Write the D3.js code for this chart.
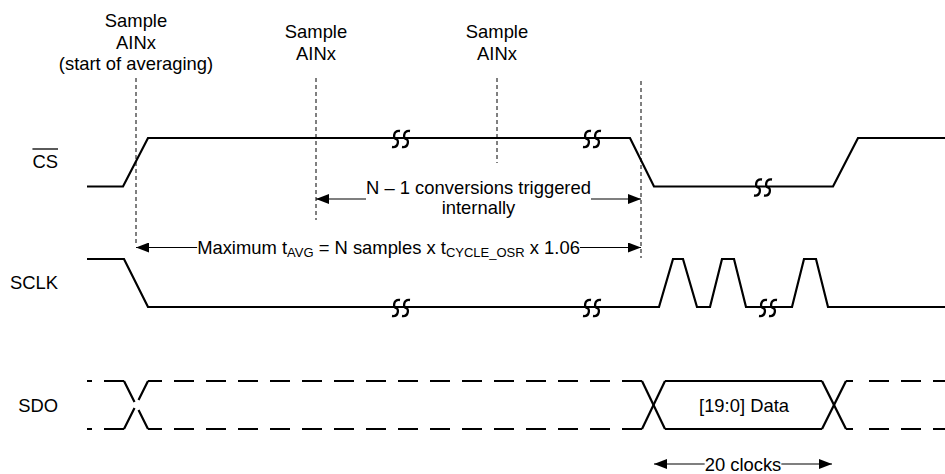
<!DOCTYPE html>
<html>
<head>
<meta charset="utf-8">
<script src="https://cdn.jsdelivr.net/npm/d3@7"></script>
<style>
  html, body { margin: 0; padding: 0; background: #fff; }
  svg { display: block; }
  text { font-family: "Liberation Sans", Arial, Helvetica, sans-serif; fill: #000; }
</style>
</head>
<body>
<svg id="chart" width="945" height="474"></svg>
<script>
// ---------- data (time units) ----------
const signalNames = ["CS", "SCLK", "SDO"];
// waveform vertices: [time, level] (level 1 = high, 0 = low)
const csWave = [[87,0],[123,0],[148,1],[630,1],[654,0],[833,0],[858,1],[945,1]];
const sclkWave = [[87,1],[124,1],[148,0],[659,0],[673,1],[683,1],[697,0],[710,0],[722,1],[734,1],[746,0],[792,0],[804,1],[816,1],[828,0],[945,0]];
// break symbols: [time, level]
const csBreaks = [[401,1],[592,1],[763,0]];
const sclkBreaks = [[401,0],[592,0],[768,0]];
// SDO bus: undefined (dashed) segments, crossing points, valid data window
const sdoStart = 87, sdoEnd = 945;
const sdoCross1 = [124, 148];
const sdoData = [642, 665, 822, 846];
const sdoLabel = "[19:0] Data";
// sample markers
const sampleTimes = [136, 316, 497, 641];
const sampleLabels = [["Sample","AINx","(start of averaging)"],["Sample","AINx"],["Sample","AINx"],[]];
const sampleLineEnds = [[78,245],[78,220],[78,163],[81,258]];
// annotations
const convText = ["N \u2013 1 conversions triggered", "internally"];
const convSpan = [316, 641];
const avgSpan = [136, 641];
const clockSpan = [654, 832];
const clockText = "20 clocks";

// ---------- scales ----------
const W = 945, H = 474;
const x = d3.scaleLinear().domain([0, 945]).range([0, W]);
const yCS = d3.scaleLinear().domain([0, 1]).range([186.5, 138]);
const ySCLK = d3.scaleLinear().domain([0, 1]).range([307, 259]);
const ySDO = d3.scaleLinear().domain([0, 1]).range([429, 381]);

const svg = d3.select("#chart");
const FONT = 18.4, SUB = 13;

// arrow marker
const defs = svg.append("defs");
defs.append("marker").attr("id","arr").attr("viewBox","0 0 13 10")
  .attr("refX",13).attr("refY",5).attr("markerWidth",13).attr("markerHeight",10)
  .attr("markerUnits","userSpaceOnUse").attr("orient","auto")
  .append("path").attr("d","M0,0 L13,5 L0,10 Z").attr("fill","#000");

// signal labels
const labelY = { CS: 168, SCLK: 289, SDO: 412 };
signalNames.forEach(n => {
  const t = svg.append("text").attr("x", 58).attr("y", labelY[n])
    .attr("text-anchor","end").attr("font-size", FONT).text(n);
  if (n === "CS") {
    const bb = t.node().getBBox();
    svg.append("line").attr("x1", bb.x).attr("x2", bb.x + bb.width)
      .attr("y1", 149).attr("y2", 149).attr("stroke","#000").attr("stroke-width",1.3);
  }
});

// sample dashed lines + labels
sampleTimes.forEach((t, i) => {
  svg.append("line").attr("x1", x(t)).attr("x2", x(t))
    .attr("y1", sampleLineEnds[i][0]).attr("y2", sampleLineEnds[i][1])
    .attr("stroke","#000").attr("stroke-width",1).attr("stroke-dasharray","4,3");
  const lines = sampleLabels[i];
  const base = lines.length === 3 ? 27 : 38;
  lines.forEach((s, j) => {
    svg.append("text").attr("x", x(t)).attr("y", base + j * 21.7)
      .attr("text-anchor","middle").attr("font-size", FONT).text(s);
  });
});

// waveforms
function drawWave(data, y) {
  const line = d3.line().x(d => x(d[0])).y(d => y(d[1]));
  svg.append("path").attr("d", line(data)).attr("fill","none")
    .attr("stroke","#000").attr("stroke-width",2.2).attr("stroke-linejoin","miter");
}
drawWave(csWave, yCS);
drawWave(sclkWave, ySCLK);

// break symbols
function drawBreaks(list, y) {
  list.forEach(([t, lv]) => {
    const cy = y(lv);
    [-5, 5].forEach(off => {
      const cx = x(t) + off;
      const top = cy - 7, bot = cy + 9, mid = cy + 1;
      const d = `M${cx+4},${top} C${cx-3},${top-1} ${cx-3},${mid} ${cx},${mid} C${cx+3},${mid} ${cx+3},${bot+1} ${cx-4},${bot}`;
      svg.append("path").attr("d", d).attr("fill","none").attr("stroke","#000").attr("stroke-width",2.3);
    });
  });
}
drawBreaks(csBreaks, yCS);
drawBreaks(sclkBreaks, ySCLK);

// SDO bus
function hseg(x1, x2, lv, dash, offset) {
  const p = svg.append("line").attr("x1", x(x1)).attr("x2", x(x2))
    .attr("y1", ySDO(lv)).attr("y2", ySDO(lv))
    .attr("stroke","#000").attr("stroke-width",2.2);
  if (dash) p.attr("stroke-dasharray", dash).attr("stroke-dashoffset", offset || 0);
}
function diag(x1, l1, x2, l2, dash) {
  const p = svg.append("line").attr("x1", x(x1)).attr("y1", ySDO(l1))
    .attr("x2", x(x2)).attr("y2", ySDO(l2)).attr("stroke","#000").attr("stroke-width",2.2);
  if (dash) p.attr("stroke-dasharray", dash);
}
[0, 1].forEach(lv => {
  hseg(sdoStart, sdoCross1[0], lv, "20,12", 15);
  hseg(sdoCross1[1], sdoData[0], lv, "20,12", 6);
  hseg(sdoData[1], sdoData[2], lv);
  hseg(sdoData[3], sdoEnd, lv, "7,16,20,12,20,12,20,12,20", 0);
});
// first crossing (gap in centre)
diag(sdoCross1[0], 1, sdoCross1[1], 0, "23.5,9,30");
diag(sdoCross1[0], 0, sdoCross1[1], 1, "23.5,9,30");
// data crossings
diag(sdoData[0], 1, sdoData[1], 0); diag(sdoData[0], 0, sdoData[1], 1);
diag(sdoData[2], 1, sdoData[3], 0); diag(sdoData[2], 0, sdoData[3], 1);
svg.append("text").attr("x", x((sdoData[0] + sdoData[3]) / 2)).attr("y", 412)
  .attr("text-anchor","middle").attr("font-size", FONT).text(sdoLabel);

// dimension arrows touching text
function arrowPair(bb, tipL, tipR, y) {
  svg.append("line").attr("x1", bb.x).attr("x2", x(tipL)).attr("y1", y).attr("y2", y)
    .attr("stroke","#000").attr("stroke-width",1.2).attr("marker-end","url(#arr)");
  svg.append("line").attr("x1", bb.x + bb.width).attr("x2", x(tipR)).attr("y1", y).attr("y2", y)
    .attr("stroke","#000").attr("stroke-width",1.2).attr("marker-end","url(#arr)");
}

// N-1 conversions
const cx1 = (x(convSpan[0]) + x(convSpan[1])) / 2;
const c1 = svg.append("text").attr("x", cx1).attr("y", 194).attr("text-anchor","middle")
  .attr("font-size", FONT).text(convText[0]);
svg.append("text").attr("x", cx1).attr("y", 214).attr("text-anchor","middle")
  .attr("font-size", FONT).text(convText[1]);
arrowPair(c1.node().getBBox(), convSpan[0], convSpan[1], 199);

// Maximum tAVG
const cx2 = (x(avgSpan[0]) + x(avgSpan[1])) / 2;
const m = svg.append("text").attr("x", cx2).attr("y", 254).attr("text-anchor","middle").attr("font-size", FONT);
m.append("tspan").text("Maximum t");
m.append("tspan").attr("font-size", SUB).attr("dy", 3).text("AVG");
m.append("tspan").attr("dy", -3).text(" = N samples x t");
m.append("tspan").attr("font-size", SUB).attr("dy", 3).text("CYCLE_OSR");
m.append("tspan").attr("dy", -3).text(" x 1.06");
arrowPair(m.node().getBBox(), avgSpan[0], avgSpan[1], 247.5);

// 20 clocks
const cx3 = (x(clockSpan[0]) + x(clockSpan[1])) / 2;
const ct = svg.append("text").attr("x", cx3).attr("y", 471).attr("text-anchor","middle")
  .attr("font-size", FONT).text(clockText);
arrowPair(ct.node().getBBox(), clockSpan[0], clockSpan[1], 464);
</script>
</body>
</html>
